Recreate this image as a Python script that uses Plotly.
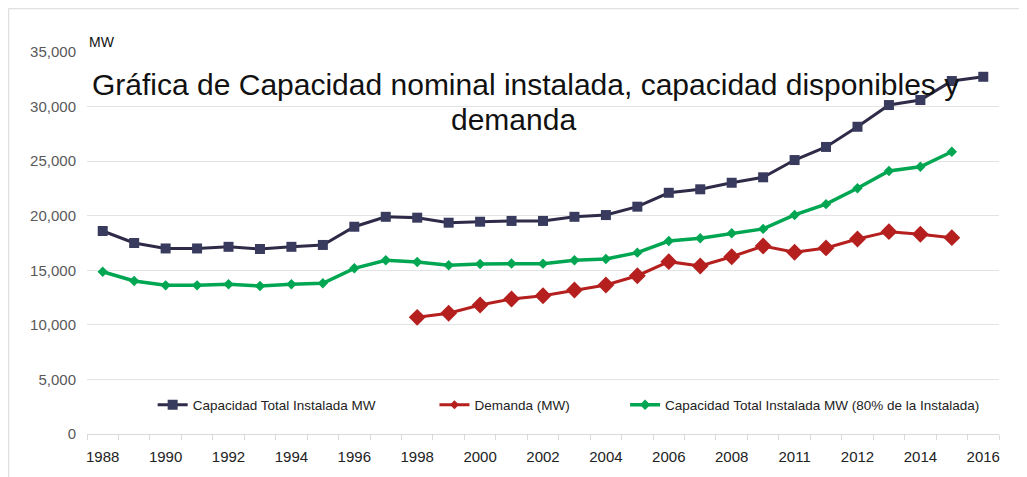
import plotly.graph_objects as go

years = list(range(1988, 2017))

capacidad_instalada = [18600, 17500, 17000, 17000, 17150, 16950, 17150, 17320,
                       18990, 19900, 19820, 19360, 19450, 19520, 19520, 19900,
                       20060, 20830, 22100, 22420, 23020, 23520, 25100, 26300,
                       28150, 30140, 30600, 32340, 32730]

demanda_years = list(range(1998, 2016))
demanda = [10690, 11060, 11820, 12370, 12670, 13190, 13650, 14500, 15790,
           15390, 16240, 17220, 16650, 17050, 17870, 18540, 18300, 17990]

cap80_years = list(range(1988, 2016))
capacidad_80 = [14870, 14020, 13620, 13620, 13716, 13560, 13716, 13810,
                15180, 15914, 15760, 15456, 15575, 15620, 15610, 15914,
                16040, 16614, 17683, 17930, 18390, 18790, 20070, 21060,
                22510, 24100, 24490, 25860]

tick_years = [1988, 1990, 1992, 1994, 1996, 1998, 2000, 2002, 2004, 2006,
              2008, 2010, 2012, 2014, 2016]
tick_labels = ["1988", "1990", "1992", "1994", "1996", "1998", "2000", "2002",
               "2004", "2006", "2008", "2011", "2012", "2014", "2016"]

y_ticks = [0, 5000, 10000, 15000, 20000, 25000, 30000, 35000]

title_line1 = "Gráfica de Capacidad nominal instalada, capacidad disponibles y"
title_line2 = "demanda"

FONT = "Liberation Sans, Arial, sans-serif"

fig = go.Figure()

fig.add_trace(go.Scatter(
    x=years, y=capacidad_instalada, mode="lines+markers",
    name="Capacidad Total Instalada MW",
    line=dict(color="#2e2b48", width=3),
    marker=dict(symbol="square", size=10, color="#393b5e"),
    legend="legend",
))
fig.add_trace(go.Scatter(
    x=demanda_years, y=demanda, mode="lines+markers",
    name="Demanda (MW)",
    line=dict(color="#b5201f", width=3),
    marker=dict(symbol="diamond", size=13, color="#b5201f"),
    showlegend=False,
))
# legend entry for Demanda (small marker as in the original legend)
fig.add_trace(go.Scatter(
    x=[None], y=[None], mode="lines+markers",
    name="Demanda (MW)",
    line=dict(color="#b5201f", width=3),
    marker=dict(symbol="diamond", size=7, color="#b5201f"),
    legend="legend2", hoverinfo="skip",
))
fig.add_trace(go.Scatter(
    x=cap80_years, y=capacidad_80, mode="lines+markers",
    name="Capacidad Total Instalada MW (80% de la Instalada)",
    line=dict(color="#00a651", width=3.5),
    marker=dict(symbol="diamond", size=8, color="#00a651"),
    legend="legend3",
))

legend_common = dict(
    orientation="h", yanchor="middle", y=0.076, xanchor="left",
    font=dict(family=FONT, size=13.5, color="#222222"),
    bgcolor="rgba(0,0,0,0)", itemwidth=30,
)

PW = 912.0
PH = 382.0

fig.update_layout(
    width=1019, height=469,
    margin=dict(l=79, r=28, t=44, b=43),
    paper_bgcolor="white", plot_bgcolor="white",
    font=dict(family=FONT),
    showlegend=True,
    legend=dict(x=0.072, **legend_common),
    legend2=dict(x=0.381, **legend_common),
    legend3=dict(x=0.590, **legend_common),
    xaxis=dict(
        range=[1987.5, 2016.5],
        tickmode="array", tickvals=tick_years, ticktext=tick_labels,
        ticks="", showgrid=False, zeroline=False,
        showline=True, linecolor="#d9d9d9", linewidth=1,
        tickfont=dict(family=FONT, size=15, color="#222222"),
        minor=dict(ticks="outside", tick0=1987.5, dtick=1, ticklen=5,
                   tickcolor="#d9d9d9", tickwidth=1, showgrid=False),
        ticklabelstandoff=9,
    ),
    yaxis=dict(
        range=[0, 35000], tickvals=y_ticks, tickformat=",",
        showgrid=True, gridcolor="#e3e3e3", gridwidth=1,
        zeroline=False, showline=False, ticks="",
        tickfont=dict(family=FONT, size=15, color="#595959"),
        ticklabelstandoff=10,
    ),
    annotations=[
        dict(text="MW", xref="paper", yref="paper", x=0.0, y=1.0,
             xanchor="left", yanchor="bottom", showarrow=False,
             font=dict(family=FONT, size=14, color="#111111")),
        dict(text=title_line1, xref="paper", yref="paper",
             x=(525 - 87) / PW, y=(434 - 84) / PH,
             xanchor="center", yanchor="middle", showarrow=False,
             font=dict(family=FONT, size=30, color="#111111")),
        dict(text=title_line2, xref="paper", yref="paper",
             x=(513 - 87) / PW, y=(434 - 119) / PH,
             xanchor="center", yanchor="middle", showarrow=False,
             font=dict(family=FONT, size=30, color="#111111")),
    ],
    shapes=[
        dict(type="line", xref="paper", yref="paper",
             x0=-78.5 / PW, x1=1.2, y0=1 + 43.5 / PH, y1=1 + 43.5 / PH,
             line=dict(color="#e0e0e0", width=1.5)),
        dict(type="line", xref="paper", yref="paper",
             x0=-78.5 / PW, x1=-78.5 / PW, y0=1 + 43.5 / PH, y1=-0.2,
             line=dict(color="#e0e0e0", width=1.5)),
    ],
)

fig.write_html("out.html")
